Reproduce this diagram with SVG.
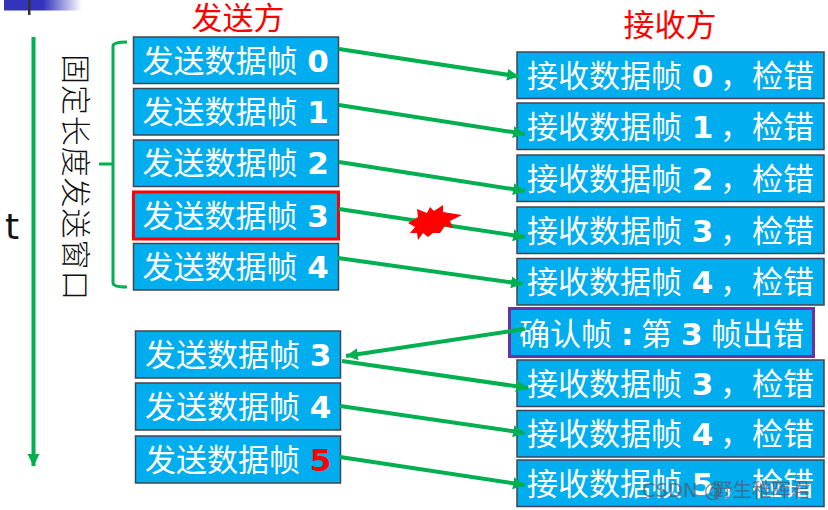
<svg xmlns="http://www.w3.org/2000/svg" width="828" height="510" viewBox="0 0 828 510">
<defs>
<linearGradient id="fade" x1="0" x2="1" y1="0" y2="0"><stop offset="0" stop-color="#3333bb"/><stop offset="0.5" stop-color="#3333bb"/><stop offset="1" stop-color="#ffffff"/></linearGradient>
<marker id="ah" markerUnits="userSpaceOnUse" markerWidth="14" markerHeight="14" refX="12" refY="6" orient="auto"><path d="M0 0L12 6L0 12Z" fill="#00b050"/></marker>
</defs>
<style>
.b{fill:#00aeef;stroke:#404650;stroke-width:1.5}
.t{font-family:"DejaVu Sans","Noto Sans CJK SC",sans-serif;font-size:31px;fill:#fff}
.d{font-family:"DejaVu Sans",sans-serif;font-weight:700}
.h{font-family:"Noto Sans CJK SC",sans-serif;font-size:31px;fill:#f00}
.c{fill:none;stroke:#00b050;stroke-width:4}
.a{marker-end:url(#ah)}
</style>
<rect width="828" height="510" fill="#fff"/>
<rect x="4" y="0" width="78" height="10.500" fill="url(#fade)"/>
<rect x="28" y="0" width="2.500" height="15" fill="#333"/>
<text x="12" y="239" font-family="DejaVu Sans, sans-serif" font-size="36" fill="#111" text-anchor="middle">t</text>
<text x="238" y="29" class="h" text-anchor="middle">发送方</text>
<text x="670" y="36" class="h" text-anchor="middle">接收方</text>
<text transform="translate(65,54) rotate(90)" font-family="Noto Sans CJK SC, sans-serif" font-size="30" font-weight="300" letter-spacing="0.900" fill="#111">固定长度发送窗口</text>
<g id="s0"><rect class="b" x="133.500" y="37" width="205" height="46.500"/><text class="t" x="142.500" y="72">发送数据帧 <tspan class="d">0</tspan></text></g>
<g id="s1"><rect class="b" x="133.500" y="88.500" width="205" height="46.500"/><text class="t" x="142.500" y="123">发送数据帧 <tspan class="d">1</tspan></text></g>
<g id="s2"><rect class="b" x="133.500" y="140" width="205" height="46.500"/><text class="t" x="142.500" y="174">发送数据帧 <tspan class="d">2</tspan></text></g>
<g id="s3"><rect x="133.500" y="192" width="205" height="47" fill="#00aeef" stroke="#f00" stroke-width="3"/><text class="t" x="142.500" y="227">发送数据帧 <tspan class="d">3</tspan></text></g>
<g id="s4"><rect class="b" x="133.500" y="243.500" width="205" height="46.500"/><text class="t" x="142.500" y="278">发送数据帧 <tspan class="d">4</tspan></text></g>
<g id="s5"><rect class="b" x="135.500" y="331" width="205" height="47"/><text class="t" x="145" y="366">发送数据帧 <tspan class="d">3</tspan></text></g>
<g id="s6"><rect class="b" x="135.500" y="383" width="205" height="47"/><text class="t" x="145" y="418">发送数据帧 <tspan class="d">4</tspan></text></g>
<g id="s7"><rect class="b" x="135.500" y="436" width="205" height="47"/><text class="t" x="145" y="471">发送数据帧 <tspan class="d" fill="#f00">5</tspan></text></g>
<g id="r0"><rect class="b" x="517" y="52" width="307" height="46.500"/><text class="t" x="527" y="87">接收数据帧 <tspan class="d">0</tspan> <tspan x="720">，</tspan><tspan x="752">检错</tspan></text></g>
<g id="r1"><rect class="b" x="517" y="103" width="307" height="46.500"/><text class="t" x="527" y="138">接收数据帧 <tspan class="d">1</tspan> <tspan x="720">，</tspan><tspan x="752">检错</tspan></text></g>
<g id="r2"><rect class="b" x="517" y="155" width="307" height="46.500"/><text class="t" x="527" y="190">接收数据帧 <tspan class="d">2</tspan> <tspan x="720">，</tspan><tspan x="752">检错</tspan></text></g>
<g id="r3"><rect class="b" x="517" y="207" width="307" height="46.500"/><text class="t" x="527" y="242">接收数据帧 <tspan class="d">3</tspan> <tspan x="720">，</tspan><tspan x="752">检错</tspan></text></g>
<g id="r4"><rect class="b" x="517" y="258.500" width="307" height="46.500"/><text class="t" x="527" y="293">接收数据帧 <tspan class="d">4</tspan> <tspan x="720">，</tspan><tspan x="752">检错</tspan></text></g>
<g id="ack"><rect x="509.500" y="308.500" width="304" height="48" fill="#00aeef" stroke="#7030a0" stroke-width="3"/><text class="t" x="519" y="345">确认帧<tspan class="d" x="621">:</tspan><tspan x="641">第</tspan><tspan class="d" x="681">3</tspan><tspan x="711">帧出错</tspan></text></g>
<g id="r5"><rect class="b" x="517" y="360" width="307" height="46.500"/><text class="t" x="527" y="395">接收数据帧 <tspan class="d">3</tspan> <tspan x="720">，</tspan><tspan x="752">检错</tspan></text></g>
<g id="r6"><rect class="b" x="517" y="410.500" width="307" height="46.500"/><text class="t" x="527" y="445">接收数据帧 <tspan class="d">4</tspan> <tspan x="720">，</tspan><tspan x="752">检错</tspan></text></g>
<g id="r7"><rect class="b" x="517" y="460" width="307" height="46.500"/><text class="t" x="527" y="495">接收数据帧 <tspan class="d">5</tspan> <tspan x="720">，</tspan><tspan x="752">检错</tspan></text></g>
<g id="connectors">
<path class="c a" d="M33.500 37V466"/>
<path class="c" style="stroke-width:3" d="M127 42Q113 42 113 46V283Q113 287 127 287M99 164H113"/>
<path class="c a" d="M339 49L519 76.500"/>
<path class="c a" d="M339 105L525 134"/>
<path class="c a" d="M339 162L525 191"/>
<path class="c a" d="M339 209L525 237"/>
<path class="c a" d="M338 258L523 284"/>
<path class="c a" d="M525 329L346 356"/>
<path class="c a" d="M342 361L528 388"/>
<path class="c a" d="M340 406L525 433"/>
<path class="c a" d="M340 457L525 485"/>
</g>
<g id="burst"><polygon fill="#f00" points="408,223 418,217 417,209 427,213 430,207 434,211 443,205 443,212 462,215 450,221 453,228 445,226 440,233 433,233 428,237 423,233 418,240 417,233 410,233 415,227"/></g>
<text x="642" y="497" font-family="DejaVu Sans, Noto Sans CJK SC, sans-serif" font-size="19.500" fill="#556" fill-opacity="0.7">CSDN @<tspan x="713" font-family="Noto Sans CJK SC, sans-serif">野生稚晖君</tspan></text>
</svg>
